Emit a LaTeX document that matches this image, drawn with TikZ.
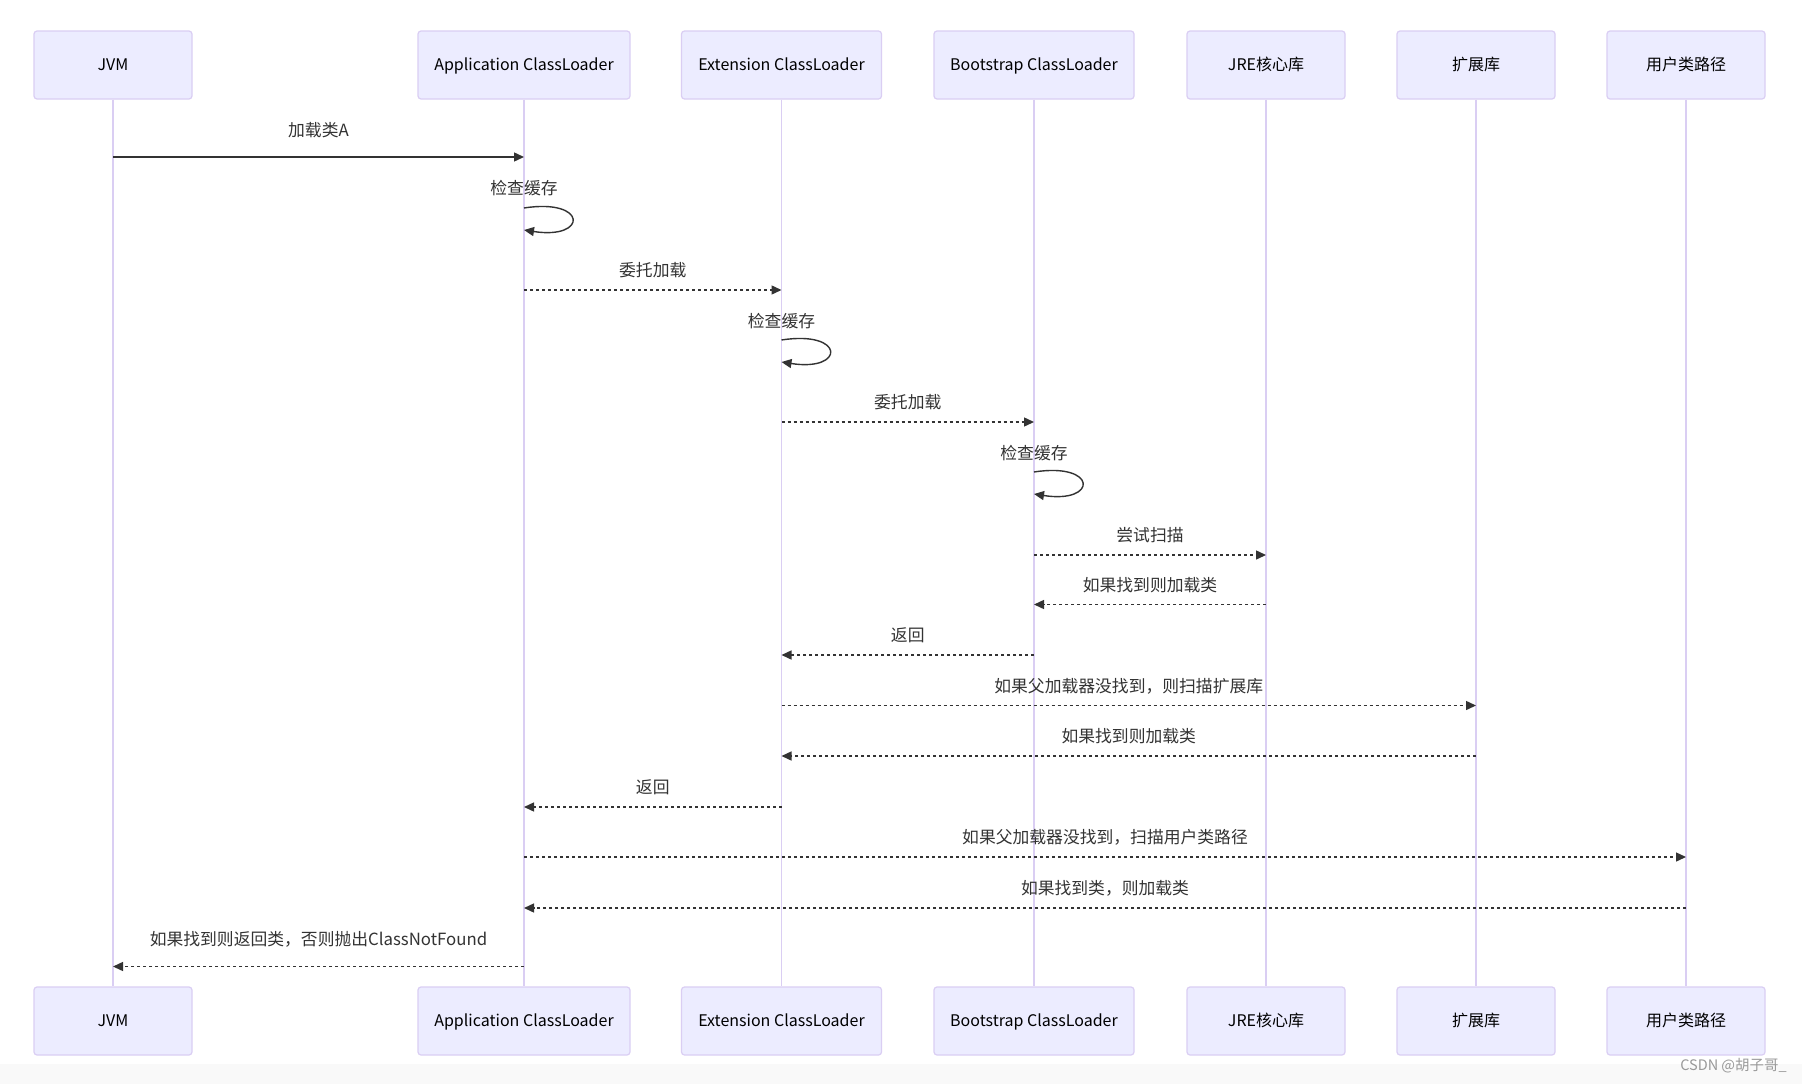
\documentclass[tikz,border=0pt]{standalone}
\usepackage{fontspec}
\setmainfont{Noto Sans CJK SC}
\usetikzlibrary{arrows.meta,calc}
\definecolor{boxfill}{HTML}{ECECFF}
\definecolor{boxline}{HTML}{DACEF3}
\definecolor{ink}{HTML}{333333}
\tikzset{
  actor/.style={draw=boxline, fill=boxfill, line width=1.2pt, rounded corners=3pt,
    minimum height=68pt, inner sep=0pt, text=black, font=\fontsize{16}{19}\selectfont,
    text height=14pt, text depth=3pt},
  lifeline/.style={draw=boxline, line width=1.8pt},
  msgsolid/.style={draw=ink, line width=1.4pt, -{Triangle[length=10pt,width=9pt]}},
  msgdash/.style={msgsolid, dash pattern=on 3pt off 3pt},
  lbl/.style={text=ink, font=\fontsize{16.8}{19}\selectfont, inner sep=0pt,
    text height=12.5pt, text depth=3.5pt},
}
\begin{document}
\begin{tikzpicture}[x=1pt,y=-1pt]
\useasboundingbox (0,0) rectangle (1802,1084);
\fill[white] (0,0) rectangle (1802,1084);
\fill[black!2.5] (0,1064) rectangle (1802,1084);

% top actors
\node[actor, minimum width=158pt] (jvmT) at (113,65) {JVM};
\node[actor, minimum width=212pt] (appT) at (524,65) {Application ClassLoader};
\node[actor, minimum width=200pt] (extT) at (781.5,65) {Extension ClassLoader};
\node[actor, minimum width=200pt] (bootT) at (1034,65) {Bootstrap ClassLoader};
\node[actor, minimum width=158pt] (jreT) at (1266,65) {JRE核心库};
\node[actor, minimum width=158pt] (extlT) at (1476,65) {扩展库};
\node[actor, minimum width=158pt] (userT) at (1686,65) {用户类路径};
% bottom actors
\node[actor, minimum width=158pt] (jvmB) at (113,1021) {JVM};
\node[actor, minimum width=212pt] (appB) at (524,1021) {Application ClassLoader};
\node[actor, minimum width=200pt] (extB) at (781.5,1021) {Extension ClassLoader};
\node[actor, minimum width=200pt] (bootB) at (1034,1021) {Bootstrap ClassLoader};
\node[actor, minimum width=158pt] (jreB) at (1266,1021) {JRE核心库};
\node[actor, minimum width=158pt] (extlB) at (1476,1021) {扩展库};
\node[actor, minimum width=158pt] (userB) at (1686,1021) {用户类路径};

% lifelines
\foreach \n in {jvm,app,ext,boot,jre,extl,user}
  \draw[lifeline] (\n T.south) -- (\n B.north);

% messages
\draw[msgsolid] (jvmT |- 0,157) -- node[lbl, yshift=25pt]{加载类A} (appT |- 0,157);

\draw[msgsolid] (appT |- 0,208) .. controls ($(appT |- 0,198)+(64,0)$) and ($(appT |- 0,240)+(64,0)$) .. (appT |- 0,230);
\node[lbl] (l2) at (appT |- 0,190) {检查缓存};

\draw[msgdash] (appT |- 0,290) -- node[lbl, yshift=18pt]{委托加载} (extT |- 0,290);

\draw[msgsolid] (extT |- 0,340) .. controls ($(extT |- 0,330)+(64,0)$) and ($(extT |- 0,372)+(64,0)$) .. (extT |- 0,362);
\node[lbl] (l4) at (extT |- 0,323) {检查缓存};

\draw[msgdash] (extT |- 0,422) -- node[lbl, yshift=18pt]{委托加载} (bootT |- 0,422);

\draw[msgsolid] (bootT |- 0,472) .. controls ($(bootT |- 0,462)+(64,0)$) and ($(bootT |- 0,504)+(64,0)$) .. (bootT |- 0,494);
\node[lbl] (l6) at (bootT |- 0,455) {检查缓存};

\draw[msgdash] (bootT |- 0,555) -- node[lbl, yshift=18pt]{尝试扫描} (jreT |- 0,555);
\draw[msgdash] (jreT |- 0,604.5) -- node[lbl, yshift=18pt]{如果找到则加载类} (bootT |- 0,604.5);
\draw[msgdash] (bootT |- 0,655) -- node[lbl, yshift=18pt]{返回} (extT |- 0,655);
\draw[msgdash] (extT |- 0,705.5) -- node[lbl, yshift=18pt]{如果父加载器没找到，则扫描扩展库} (extlT |- 0,705.5);
\draw[msgdash] (extlT |- 0,756) -- node[lbl, yshift=18pt]{如果找到则加载类} (extT |- 0,756);
\draw[msgdash] (extT |- 0,807) -- node[lbl, yshift=18pt]{返回} (appT |- 0,807);
\draw[msgdash] (appT |- 0,857) -- node[lbl, yshift=18pt]{如果父加载器没找到，扫描用户类路径} (userT |- 0,857);
\draw[msgdash] (userT |- 0,908) -- node[lbl, yshift=18pt]{如果找到类，则加载类} (appT |- 0,908);
\draw[msgdash] (appT |- 0,966.5) -- node[lbl, yshift=26pt]{如果找到则返回类，否则抛出ClassNotFound} (jvmT |- 0,966.5);

% watermark
\node[anchor=east, text=black!40, font=\fontsize{14.5}{16}\selectfont, inner sep=0pt] (wm) at (1787,1066) {CSDN @胡子哥\_};
\end{tikzpicture}
\end{document}
